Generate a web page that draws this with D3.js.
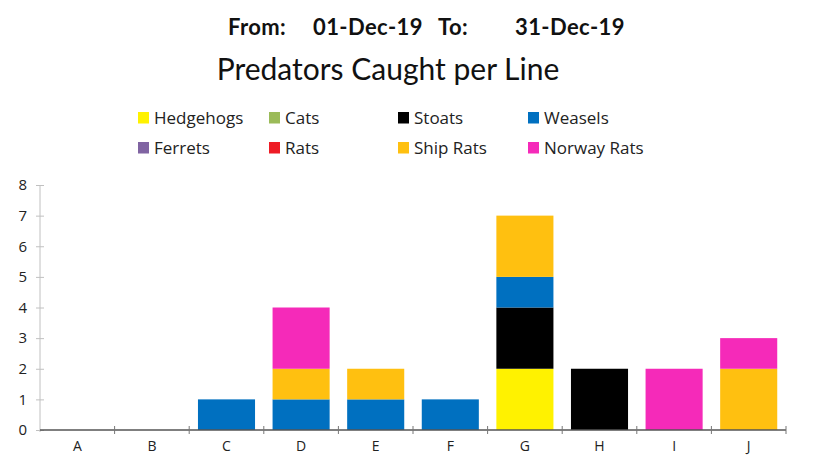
<!DOCTYPE html>
<html><head><meta charset="utf-8">
<script src="https://cdn.jsdelivr.net/npm/d3@7"></script>
<style>body{margin:0;background:#fff}svg{display:block}</style>
</head><body>
<svg id="c" width="821" height="470"></svg>
<script>
const categories = ["A","B","C","D","E","F","G","H","I","J"];
const seriesNames = ["Hedgehogs","Cats","Stoats","Weasels","Ferrets","Rats","Ship Rats","Norway Rats"];
const seriesColors = ["#FFF200","#9BBB59","#000000","#0070C0","#8064A2","#EE1C25","#FFC010","#F52AB9"];
const hedgehogs  = [0,0,0,0,0,0,2,0,0,0];
const cats       = [0,0,0,0,0,0,0,0,0,0];
const stoats     = [0,0,0,0,0,0,2,2,0,0];
const weasels    = [0,0,1,1,1,1,1,0,0,0];
const ferrets    = [0,0,0,0,0,0,0,0,0,0];
const rats       = [0,0,0,0,0,0,0,0,0,0];
const shipRats   = [0,0,0,1,1,0,2,0,0,2];
const norwayRats = [0,0,0,2,0,0,0,0,2,1];
const yTicks = [0,1,2,3,4,5,6,7,8];
const titleParts = ["From:","01-Dec-19","To:","31-Dec-19"];
const subtitleText = "Predators Caught per Line";

const seriesValues = [hedgehogs,cats,stoats,weasels,ferrets,rats,shipRats,norwayRats];
const rows = categories.map((c,i)=>{const o={cat:c};seriesNames.forEach((s,j)=>o[s]=seriesValues[j][i]);return o;});
const stacked = d3.stack().keys(seriesNames)(rows);

const svg = d3.select("#c");
const x = d3.scaleBand().domain(categories).range([40,786]).paddingInner(0.235).paddingOuter(0.1175);
const y = d3.scaleLinear().domain([0,8]).range([430,185]);

// header
const titleX = [228,313,438,515];
titleParts.forEach((t,i)=>{
  svg.append("text").attr("x",titleX[i]).attr("y",35)
    .attr("font-family","Lato, sans-serif").attr("font-weight","bold")
    .attr("font-size",22).attr("letter-spacing",0.4).attr("fill","#111").text(t);
});
svg.append("text").attr("x",388).attr("y",80).attr("text-anchor","middle")
  .attr("font-family","Lato, sans-serif").attr("font-size",30).attr("fill","#111").text(subtitleText);

// legend
const legX = [138,269,398,528];
const legY = [118,148];
seriesNames.forEach((s,i)=>{
  const g = svg.append("g").attr("transform",`translate(${legX[i%4]},${legY[Math.floor(i/4)]})`);
  g.append("rect").attr("x",0).attr("y",-6).attr("width",11).attr("height",11.5).attr("fill",seriesColors[i]);
  g.append("text").attr("x",16).attr("y",5.5).attr("font-family","'Open Sans', sans-serif")
    .attr("font-size",17).attr("fill","#222").text(s);
});

// y axis
const ya = svg.append("g").attr("transform","translate(40,0)")
  .call(d3.axisLeft(y).tickValues(yTicks).tickSize(4).tickPadding(9));
ya.select(".domain").attr("stroke","#c0c0c0").attr("d","M0,185V432");
ya.selectAll(".tick line").attr("stroke","#c0c0c0").attr("x1",4);
ya.selectAll(".tick text").attr("font-family","'Open Sans', sans-serif").attr("font-size",15).attr("fill","#222");

// bars
svg.append("g").selectAll("g").data(stacked).join("g")
  .attr("fill",(d,i)=>seriesColors[i])
  .selectAll("rect").data(d=>d.filter(p=>p[1]-p[0]>0)).join("rect")
  .attr("x",d=>x(d.data.cat)).attr("width",x.bandwidth())
  .attr("y",d=>y(d[1])).attr("height",d=>y(d[0])-y(d[1]));

// x axis
const xa = svg.append("g").attr("transform","translate(0,430)")
  .call(d3.axisBottom(x).tickSize(0).tickPadding(11));
xa.select(".domain").attr("stroke","#555").attr("stroke-width",1.3).attr("d","M40,0H786");
xa.selectAll(".tick text").attr("font-family","'Open Sans', sans-serif").attr("font-size",14).attr("fill","#222");
const bounds = categories.map(c=>x(c)-x.step()*x.paddingInner()/2).concat([786]);
svg.append("g").selectAll("line").data(bounds.slice(1)).join("line")
  .attr("x1",d=>d).attr("x2",d=>d).attr("y1",426).attr("y2",434).attr("stroke","#777");
</script>
</body></html>
